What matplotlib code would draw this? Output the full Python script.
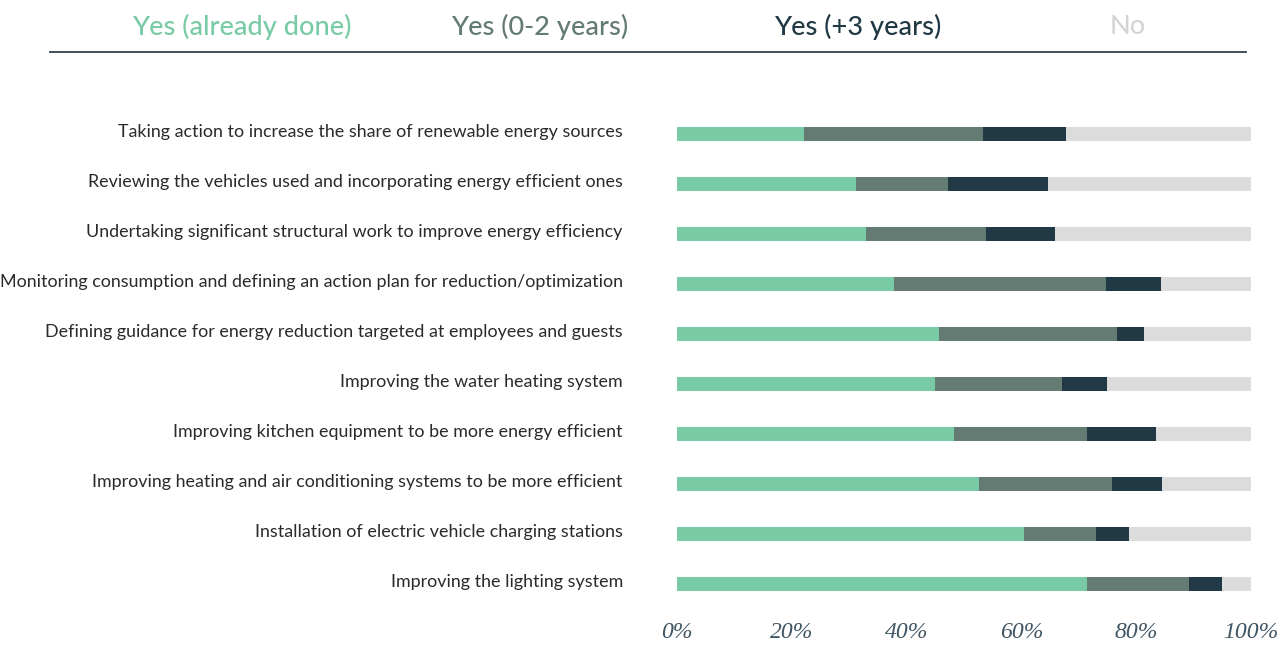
import matplotlib
matplotlib.use("Agg")
import matplotlib.pyplot as plt
from matplotlib.lines import Line2D
from matplotlib.transforms import ScaledTranslation
import numpy as np

categories = [
    "Taking action to increase the share of renewable energy sources",
    "Reviewing the vehicles used and incorporating energy efficient ones",
    "Undertaking significant structural work to improve energy efficiency",
    "Monitoring consumption and defining an action plan for reduction/optimization",
    "Defining guidance for energy reduction targeted at employees and guests",
    "Improving the water heating system",
    "Improving kitchen equipment to be more energy efficient",
    "Improving heating and air conditioning systems to be more efficient",
    "Installation of electric vehicle charging stations",
    "Improving the lighting system",
]
series_names = ["Yes (already done)", "Yes (0-2 years)", "Yes (+3 years)", "No"]
already_done = [22.1, 31.2, 32.9, 37.8, 45.7, 44.9, 48.2, 52.6, 60.5, 71.4]
yes_0_2 = [31.2, 16.0, 20.9, 37.0, 31.0, 22.2, 23.2, 23.1, 12.5, 17.8]
yes_3plus = [14.5, 17.5, 12.1, 9.5, 4.7, 7.8, 12.0, 8.8, 5.7, 5.7]
no = [100 - a - b - c for a, b, c in zip(already_done, yes_0_2, yes_3plus)]
tick_values = [0, 20, 40, 60, 80, 100]
tick_labels = ["0%", "20%", "40%", "60%", "80%", "100%"]

colors = ["#78cba5", "#647b73", "#213945", "#dcdcdc"]
header_colors = ["#78cba5", "#647b73", "#213945", "#d4d4d4"]

W, H = 1282, 646
fig = plt.figure(figsize=(W / 100, H / 100), dpi=100)
ax = fig.add_axes([677 / W, 1 - 609 / H, (1251 - 677) / W, 500 / H])

y = np.arange(len(categories))
left = np.zeros(len(categories))
for vals, col in zip([already_done, yes_0_2, yes_3plus, no], colors):
    ax.barh(y, vals, left=left, height=0.28, color=col, edgecolor="none")
    left = left + np.array(vals)

ax.set_xlim(0, 100)
ax.set_ylim(len(categories) - 0.5, -0.5)
ax.set_yticks(y)
ax.set_yticklabels(categories, fontsize=12.9, color="#2a2a2a",
                   family=["Lato", "DejaVu Sans"], fontweight="normal")
ax.set_xticks(tick_values)
ax.set_xticklabels(tick_labels, fontsize=17, style="italic", color="#3f5563",
                   family=["Liberation Serif", "DejaVu Serif"])
ax.tick_params(axis="y", length=0, pad=39)
ax.tick_params(axis="x", length=0, pad=9)
off = ScaledTranslation(0, 4 / 100, fig.dpi_scale_trans)
for lbl in ax.get_yticklabels():
    lbl.set_transform(lbl.get_transform() + off)
for s in ax.spines.values():
    s.set_visible(False)

header_x = [242, 540, 858, 1128]
for name, hx, hc in zip(series_names, header_x, header_colors):
    fig.text(hx / W, 1 - 27 / H, name, ha="center", va="center", fontsize=19.5,
             color=hc, family=["Lato", "DejaVu Sans"], fontweight="medium")

fig.add_artist(Line2D([50 / W, 1246 / W], [1 - 52 / H, 1 - 52 / H],
                      transform=fig.transFigure, color="#2d4450", lw=1.3))

fig.savefig("out.png", dpi=100)
